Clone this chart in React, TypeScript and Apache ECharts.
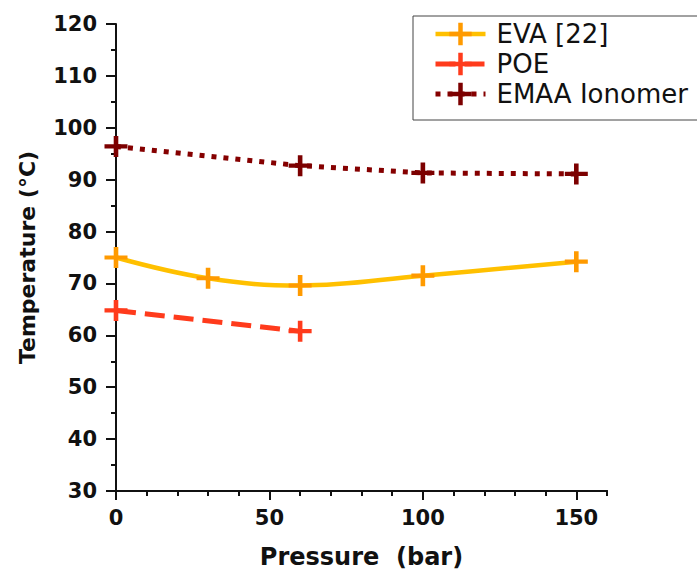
import React, { useEffect, useRef } from "react";
import * as echarts from "echarts";

const evaPressure = [0, 30, 60, 100, 150];
const evaTemp = [75.0, 71.0, 69.6, 71.5, 74.2];
const poePressure = [0, 60];
const poeTemp = [64.8, 60.8];
const emaaPressure = [0, 60, 100, 150];
const emaaTemp = [96.4, 92.7, 91.3, 91.1];
const xMajorTicks = [0, 50, 100, 150];
const seriesNames = ["EVA [22]", "POE", "EMAA Ionomer"];

const PLUS = "path://M8,0 H12 V8 H20 V12 H12 V20 H8 V12 H0 V8 H8 Z";
const BOLD = "DejaVu Sans";

const EVA_LINE = { color: "#ffc000", width: 4.5, type: "solid" as const };
const POE_LINE = { color: "#ff3b1c", width: 5, type: [20, 9], cap: "butt" as const };
const EMAA_LINE = { color: "#850000", width: 5, type: [5, 7], cap: "butt" as const };

function pairs(xs: number[], ys: number[]) {
  return xs.map((x, i) => [x, ys[i]]);
}

export default function App() {
  const ref = useRef<HTMLDivElement>(null);
  useEffect(() => {
    if (!ref.current) return;
    const chart = echarts.init(ref.current, null, { renderer: "svg" });
    const axisLine = { show: true, lineStyle: { color: "#111", width: 2 } };
    chart.setOption({
      animation: false,
      backgroundColor: "#fff",
      grid: { left: 116, right: 90, top: 24, bottom: 81 },
      legend: {
        orient: "vertical",
        left: 413,
        top: 16,
        itemWidth: 50,
        itemHeight: 28,
        itemGap: 4,
        padding: [5, 16, 13, 20],
        borderColor: "#444",
        borderWidth: 1,
        data: [
          { name: seriesNames[0], lineStyle: EVA_LINE },
          { name: seriesNames[1], lineStyle: POE_LINE },
          { name: seriesNames[2], lineStyle: EMAA_LINE },
        ],
        textStyle: { fontFamily: "DejaVu Sans", fontSize: 26, color: "#111", padding: [0, 0, 0, 6] },
      },
      xAxis: [
        {
          type: "value",
          position: "bottom",
          min: 0,
          max: 160,
          interval: 50,
          name: "Pressure  (bar)",
          nameLocation: "middle",
          nameGap: 54,
          nameTextStyle: { fontFamily: BOLD, fontWeight: "bold", fontSize: 24, color: "#111" },
          axisLine,
          axisTick: { show: true, length: 9, lineStyle: { color: "#111", width: 2 }, customValues: xMajorTicks },
          axisLabel: {
            margin: 16,
            fontFamily: BOLD,
            fontWeight: "bold",
            fontSize: 21,
            color: "#111",
            customValues: xMajorTicks,
          },
          splitLine: { show: false },
        },
        {
          type: "value",
          position: "bottom",
          min: 0,
          max: 160,
          interval: 10,
          axisLine,
          axisTick: { show: true, length: 5, lineStyle: { color: "#111", width: 2 } },
          axisLabel: { show: false },
          splitLine: { show: false },
        },
      ],
      yAxis: {
        type: "value",
        min: 30,
        max: 120,
        interval: 10,
        name: "Temperature (°C)",
        nameLocation: "middle",
        nameGap: 78,
        nameTextStyle: { fontFamily: BOLD, fontWeight: "bold", fontSize: 22, color: "#111" },
        axisLine,
        axisTick: { show: true, length: 10, lineStyle: { color: "#111", width: 2 } },
        minorTick: { show: true, splitNumber: 2, length: 5, lineStyle: { color: "#111", width: 2 } },
        axisLabel: { margin: 19, fontFamily: BOLD, fontWeight: "bold", fontSize: 21, color: "#111" },
        splitLine: { show: false },
      },
      series: [
        {
          name: seriesNames[0],
          type: "line",
          xAxisIndex: 0,
          data: pairs(evaPressure, evaTemp),
          smooth: 0.4,
          symbol: PLUS,
          symbolSize: [23, 21],
          itemStyle: { color: "#ff9a00" },
          lineStyle: EVA_LINE,
          z: 3,
        },
        {
          name: seriesNames[1],
          type: "line",
          xAxisIndex: 0,
          data: pairs(poePressure, poeTemp),
          symbol: PLUS,
          symbolSize: [23, 21],
          itemStyle: { color: "#ff3b1c" },
          lineStyle: POE_LINE,
          z: 3,
        },
        {
          name: seriesNames[2],
          type: "line",
          xAxisIndex: 0,
          data: pairs(emaaPressure, emaaTemp),
          symbol: PLUS,
          symbolSize: [23, 21],
          itemStyle: { color: "#7c0000" },
          lineStyle: EMAA_LINE,
          z: 3,
        },
      ],
    });
    return () => chart.dispose();
  }, []);
  return (
    <div
      ref={ref}
      style={{ position: "absolute", left: 0, top: 0, width: 697, height: 574, background: "#fff" }}
    />
  );
}
